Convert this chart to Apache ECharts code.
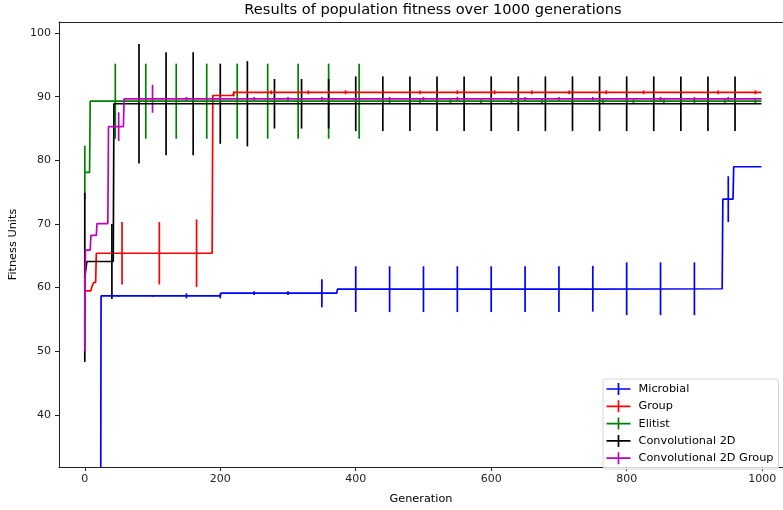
<!DOCTYPE html>
<html>
<head>
<meta charset="utf-8">
<script src="https://cdn.jsdelivr.net/npm/echarts@6/dist/echarts.min.js"></script>
<style>html,body{margin:0;padding:0;background:#fff}#chart{width:783px;height:510px}</style>
</head>
<body>
<div id="chart"></div>
<script>
// Best fitness per generation, as step breakpoints [generation, fitness]
const microbialSteps = [[0, 0], [23, 0], [24, 58.7], [200, 58.7], [201, 59.13], [372, 59.13], [373, 59.75], [739, 59.75], [740, 59.82], [941, 59.82], [942, 73.9], [957, 73.9], [958, 79.0], [999, 79.0]];
const groupSteps = [[0, 59.5], [9, 59.5], [10, 60.0], [12, 60.0], [13, 60.8], [16, 60.8], [17, 65.4], [188, 65.4], [189, 90.2], [218, 90.2], [219, 90.45], [221, 90.7], [999, 90.7]];
const elitistSteps = [[0, 78.1], [7, 78.1], [8, 89.3], [999, 89.3]];
const conv2dSteps = [[0, 61.6], [2, 61.6], [3, 64.1], [42, 64.1], [43, 88.9], [999, 88.9]];
const conv2dGroupSteps = [[0, 56], [1, 65.9], [8, 65.9], [9, 68.2], [17, 68.2], [18, 70.06], [34, 70.06], [35, 85.3], [57, 85.3], [58, 89.68], [999, 89.68]];

// Generations carrying an error bar, and the half-width of each bar
const microbialErrGens = [0, 50, 100, 150, 200, 250, 300, 350, 400, 450, 500, 550, 600, 650, 700, 750, 800, 850, 900, 950];
const microbialErr = [0, 0.15, 0.15, 0.4, 0.4, 0.3, 0.3, 2.2, 3.6, 3.6, 3.6, 3.6, 3.6, 3.6, 3.6, 3.6, 4.15, 4.15, 4.15, 3.6];
const groupErrGens = [0, 55, 110, 165, 220, 275, 330, 385, 440, 495, 550, 605, 660, 715, 770, 825, 880, 935, 990];
const groupErr = [0.3, 4.9, 4.9, 5.3, 0.4, 0.3, 0.3, 0.3, 0.3, 0.3, 0.3, 0.3, 0.3, 0.3, 0.3, 0.3, 0.3, 0.3, 0.3];
const elitistErrGens = [0, 45, 90, 135, 180, 225, 270, 315, 360, 405, 450, 495, 540, 585, 630, 675, 720, 765, 810, 855, 900, 945, 990];
const elitistErr = [4.2, 5.9, 5.9, 5.9, 5.9, 5.9, 5.9, 5.9, 5.9, 5.9, 0.3, 0.3, 0.3, 0.3, 0.3, 0.3, 0.3, 0.3, 0.3, 0.3, 0.3, 0.3, 0.3];
const conv2dErrGens = [0, 40, 80, 120, 160, 200, 240, 280, 320, 360, 400, 440, 480, 520, 560, 600, 640, 680, 720, 760, 800, 840, 880, 920, 960];
const conv2dErr = [13.3, 5.9, 9.4, 8.1, 8.1, 6.3, 6.7, 3.9, 3.9, 3.9, 4.3, 4.3, 4.3, 4.3, 4.3, 4.3, 4.3, 4.3, 4.3, 4.3, 4.3, 4.3, 4.3, 4.3, 4.3];
const conv2dGroupErrGens = [0, 50, 100, 150, 200, 250, 300, 350, 400, 450, 500, 550, 600, 650, 700, 750, 800, 850, 900, 950];
const conv2dGroupErr = [6, 2.25, 2.2, 0.3, 0.3, 0.3, 0.3, 0.3, 0.3, 0.3, 0.3, 0.3, 0.3, 0.3, 0.3, 0.3, 0.3, 0.3, 0.3, 0.3];

// Axis ticks
const xTicks = [0, 200, 400, 600, 800, 1000];
const yTicks = [40, 50, 60, 70, 80, 90, 100];

const FONT = 'DejaVu Sans';
const LW = 1.7;

function valueAt(steps, g) {
  let v = steps[0][1];
  for (const s of steps) { if (s[0] <= g) v = s[1]; else break; }
  return v;
}

const plusIcon = 'path://M0,5.15H24V6.85H0Z M11.15,0H12.85V12H11.15Z';

const defs = [
  { name: 'Microbial', color: '#0000ff', steps: microbialSteps, gens: microbialErrGens, err: microbialErr },
  { name: 'Group', color: '#ff0000', steps: groupSteps, gens: groupErrGens, err: groupErr },
  { name: 'Elitist', color: '#008000', steps: elitistSteps, gens: elitistErrGens, err: elitistErr },
  { name: 'Convolutional 2D', color: '#000000', steps: conv2dSteps, gens: conv2dErrGens, err: conv2dErr },
  { name: 'Convolutional 2D Group', color: '#bf00bf', steps: conv2dGroupSteps, gens: conv2dGroupErrGens, err: conv2dGroupErr }
];

const series = [];
defs.forEach(function (d) {
  series.push({
    type: 'line', name: d.name, data: d.steps,
    showSymbol: false, symbol: 'none', clip: true,
    color: d.color,
    lineStyle: { color: d.color, width: LW },
    itemStyle: { color: d.color }
  });
  series.push({
    type: 'custom', name: d.name, clip: true,
    color: d.color,
    data: d.gens.map(function (g, i) {
      const v = valueAt(d.steps, g);
      return [g, v - d.err[i], v + d.err[i]];
    }),
    encode: { x: 0, y: [1, 2] },
    renderItem: function (params, api) {
      const lo = api.coord([api.value(0), api.value(1)]);
      const hi = api.coord([api.value(0), api.value(2)]);
      return {
        type: 'line',
        shape: { x1: lo[0], y1: lo[1], x2: hi[0], y2: hi[1] },
        style: { stroke: d.color, lineWidth: LW }
      };
    }
  });
});

const plain = function (v) { return String(v); };

const chart = echarts.init(document.getElementById('chart'), null, { renderer: 'canvas' });
chart.setOption({
  animation: false,
  backgroundColor: '#ffffff',
  title: {
    text: 'Results of population fitness over 1000 generations',
    left: 433, top: 3, textAlign: 'center', padding: 0,
    textStyle: { fontFamily: FONT, fontSize: 14.6, fontWeight: 'normal', color: '#000' }
  },
  grid: { left: 54, right: 0, top: 22, bottom: 36, containLabel: false },
  legend: {
    data: defs.map(function (d) { return { name: d.name, icon: plusIcon }; }),
    orient: 'vertical', left: 603, top: 379,
    itemWidth: 24, itemHeight: 12, itemGap: 5.3,
    padding: [4, 5, 5, 3.5],
    backgroundColor: 'rgba(255,255,255,0.8)',
    borderColor: '#d6d6d6', borderWidth: 1, borderRadius: 3,
    itemStyle: { borderWidth: 0 },
    textStyle: { fontFamily: FONT, fontSize: 11.3, color: '#000', lineHeight: 12, padding: [0, 0, 0, 3] }
  },
  xAxis: [{
    type: 'value', min: -38.1, max: 1030.8,
    name: 'Generation', nameLocation: 'middle', nameGap: 27,
    nameTextStyle: { fontFamily: FONT, fontSize: 11.3, color: '#000' },
    axisLine: { show: true, onZero: false, lineStyle: { color: '#222', width: 1 } },
    axisTick: { show: true, length: 4, customValues: xTicks, lineStyle: { color: '#222', width: 1 } },
    axisLabel: { customValues: xTicks, formatter: plain, margin: 7, fontFamily: FONT, fontSize: 11, color: '#222' },
    splitLine: { show: false }
  }, {
    type: 'value', position: 'top', min: -38.1, max: 1030.8,
    axisLine: { show: true, onZero: false, lineStyle: { color: '#222', width: 1 } },
    axisTick: { show: false }, axisLabel: { show: false }, splitLine: { show: false }
  }],
  yAxis: {
    type: 'value', min: 31.8, max: 101.75,
    name: 'Fitness Units', nameLocation: 'middle', nameGap: 40, nameRotate: 90,
    nameTextStyle: { fontFamily: FONT, fontSize: 11.3, color: '#000' },
    axisLine: { show: true, onZero: false, lineStyle: { color: '#222', width: 1 } },
    axisTick: { show: true, length: 4, customValues: yTicks, lineStyle: { color: '#222', width: 1 } },
    axisLabel: { customValues: yTicks, formatter: plain, margin: 8, fontFamily: FONT, fontSize: 11, color: '#222' },
    splitLine: { show: false }
  },
  series: series
});
</script>
</body>
</html>
